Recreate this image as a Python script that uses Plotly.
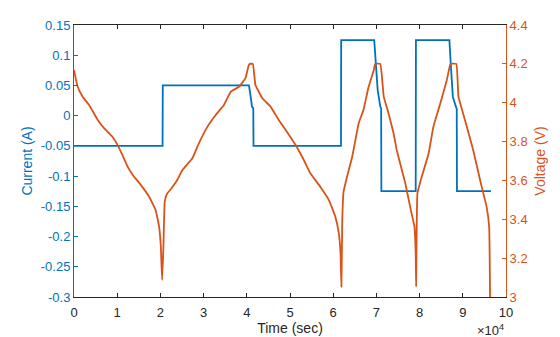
import plotly.graph_objects as go

# Time in units of 1e4 s
cur_t = [0, 2.05, 2.055, 4.05, 4.09, 4.12, 4.15, 4.155, 6.18, 6.185, 6.95, 6.99, 7.03, 7.09, 7.11,
         7.115, 7.91, 7.915, 8.69, 8.72, 8.77, 8.84, 8.86, 8.865, 9.65]
cur_a = [-0.05, -0.05, 0.05, 0.05, 0.031, 0.015, 0.012, -0.05, -0.05, 0.125, 0.125, 0.076, 0.042, 0.015, 0.012,
         -0.125, -0.125, 0.125, 0.125, 0.087, 0.031, 0.015, 0.011, -0.125, -0.125]

volt_t = [0, 0.085, 0.2, 0.35, 0.55, 0.70, 0.89, 1.01, 1.12, 1.24, 1.36, 1.55, 1.74, 1.89, 1.97, 2.01, 2.04,
          2.07, 2.10, 2.15, 2.24, 2.39, 2.51, 2.74, 2.89, 3.09, 3.28, 3.47, 3.63, 3.82, 3.97, 4.04, 4.07, 4.14,
          4.20, 4.36, 4.55, 4.74, 4.90, 5.13, 5.32, 5.47, 5.70, 5.90, 6.05, 6.13, 6.17, 6.19, 6.21, 6.24, 6.32,
          6.44, 6.59, 6.70, 6.82, 6.94, 6.97, 7.09, 7.17, 7.28, 7.40, 7.47, 7.67, 7.78, 7.88, 7.91, 7.92, 7.95,
          8.05, 8.21, 8.32, 8.48, 8.63, 8.70, 8.72, 8.85, 8.90, 9.05, 9.24, 9.40, 9.55, 9.61, 9.635]
volt_v = [4.168, 4.082, 4.031, 3.988, 3.911, 3.868, 3.825, 3.782, 3.731, 3.671, 3.628, 3.576, 3.516, 3.448, 3.362,
          3.259, 3.088, 3.259, 3.49, 3.53, 3.555, 3.602, 3.654, 3.714, 3.791, 3.877, 3.937, 3.988, 4.057, 4.082,
          4.126, 4.19, 4.2, 4.2, 4.091, 4.023, 3.98, 3.911, 3.86, 3.782, 3.705, 3.637, 3.568, 3.499, 3.413, 3.328,
          3.225, 3.053, 3.396, 3.542, 3.619, 3.722, 3.894, 3.963, 4.082, 4.168, 4.2, 4.2, 4.031, 3.946, 3.84,
          3.757, 3.585, 3.465, 3.362, 3.225, 3.053, 3.534, 3.619, 3.74, 3.877, 3.997, 4.117, 4.19, 4.2, 4.2,
          4.031, 3.911, 3.757, 3.602, 3.465, 3.362, 2.9]

x_ticks = [0, 1, 2, 3, 4, 5, 6, 7, 8, 9, 10]
x_labels = ["0", "1", "2", "3", "4", "5", "6", "7", "8", "9", "10"]
yl_ticks = [0.15, 0.1, 0.05, 0, -0.05, -0.1, -0.15, -0.2, -0.25, -0.3]
yl_labels = ["0.15", "0.1", "0.05", "0", "-0.05", "-0.1", "-0.15", "-0.2", "-0.25", "-0.3"]
yr_ticks = [3, 3.2, 3.4, 3.6, 3.8, 4, 4.2, 4.4]
yr_labels = ["3", "3.2", "3.4", "3.6", "3.8", "4", "4.2", "4.4"]

BLUE = "#0072BD"
ORANGE = "#D95319"
DARK = "#262626"
FONT = "Liberation Sans, Arial, sans-serif"

fig = go.Figure()
fig.add_trace(go.Scatter(x=cur_t, y=cur_a, mode="lines", line=dict(color=BLUE, width=1.8), yaxis="y"))
fig.add_trace(go.Scatter(x=volt_t, y=volt_v, mode="lines", line=dict(color=ORANGE, width=1.8, shape="spline", smoothing=0.3), yaxis="y2"))

fig.update_layout(
    width=560, height=337,
    margin=dict(l=74, r=54, t=25, b=40),
    plot_bgcolor="white", paper_bgcolor="white",
    showlegend=False,
    font=dict(family=FONT, size=13, color=DARK),
    xaxis=dict(range=[0, 10], tickvals=x_ticks, ticktext=x_labels, ticks="inside", ticklen=4,
               tickcolor=DARK, showline=True, linecolor=DARK, linewidth=1, mirror="ticks",
               showgrid=False, zeroline=False, tickfont=dict(size=13, color=DARK), ticklabelstandoff=3,
               automargin=False,
               title=dict(text="Time (sec)", font=dict(size=14, color=DARK), standoff=4)),
    yaxis=dict(range=[-0.3, 0.15], tickvals=yl_ticks, ticktext=yl_labels, ticks="inside", ticklen=4,
               tickcolor=BLUE, showline=True, linecolor=BLUE, linewidth=1, showgrid=False, zeroline=False,
               tickfont=dict(size=13, color=BLUE), automargin=False,
               title=dict(text="Current (A)", font=dict(size=14, color=BLUE), standoff=4)),
    yaxis2=dict(range=[3, 4.4], tickvals=yr_ticks, ticktext=yr_labels, ticks="inside", ticklen=4,
                tickcolor=ORANGE, showline=True, linecolor=ORANGE, linewidth=1, showgrid=False, zeroline=False,
                overlaying="y", side="right", tickfont=dict(size=13, color=ORANGE), automargin=False,
                title=dict(text="Voltage (V)", font=dict(size=14, color=ORANGE), standoff=8)),
    annotations=[dict(text="×10<sup>4</sup>", xref="paper", yref="paper", x=1.0, y=-0.12,
                      xanchor="right", yanchor="middle", showarrow=False,
                      font=dict(size=13, color=DARK))],
)

fig.write_html("out.html")
